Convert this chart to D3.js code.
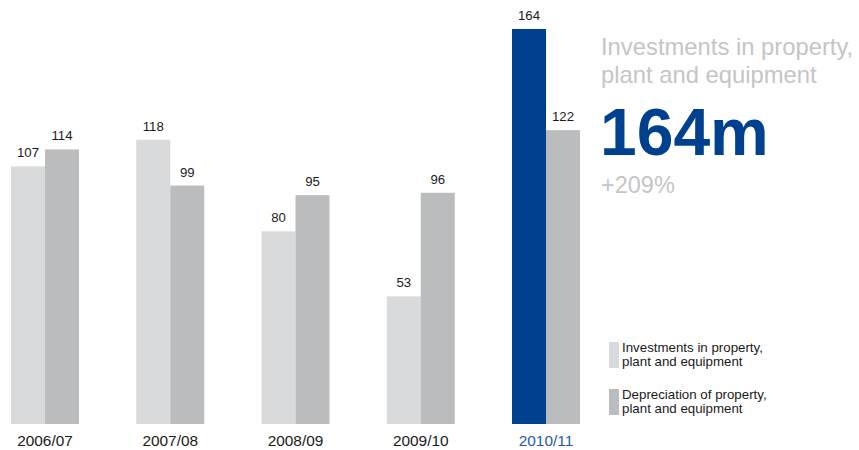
<!DOCTYPE html>
<html>
<head>
<meta charset="utf-8">
<script src="https://cdn.jsdelivr.net/npm/d3@7"></script>
<style>
  html, body { margin: 0; padding: 0; background: #fff; }
  svg { display: block; font-family: "Liberation Sans", Arial, sans-serif; }
</style>
</head>
<body>
<svg id="chart" width="859" height="450"></svg>
<script>
// Fiscal years and the two series (EUR millions)
const years = ["2006/07", "2007/08", "2008/09", "2009/10", "2010/11"];
const investments = [107, 118, 80, 53, 164];
const depreciation = [114, 99, 95, 96, 122];
const seriesNames = ["Investments in property,\nplant and equipment", "Depreciation of property,\nplant and equipment"];
const highlightYear = "2010/11";
const headlineValue = "164m";
const headlineChange = "+209%";
const headlineTitle = ["Investments in property,", "plant and equipment"];

const colLight = "#d9dadc";
const colDark = "#bbbcbe";
const colBlue = "#00418f";

const svg = d3.select("#chart");

const x = d3.scaleBand().domain(years).range([11, 580]).paddingInner(0.457).paddingOuter(0);
const xs = d3.scaleBand().domain(["inv", "dep"]).range([0, x.bandwidth()]).padding(0);
const y = d3.scaleLinear().domain([0, 164]).range([424, 29]);

const rows = years.map((yr, i) => ({ year: yr, inv: investments[i], dep: depreciation[i] }));

const groups = svg.append("g").selectAll("g")
  .data(rows).join("g")
  .attr("transform", d => `translate(${x(d.year)},0)`);

const bars = groups.selectAll("g.bar")
  .data(d => ["inv", "dep"].map(k => ({ key: k, value: d[k], year: d.year })))
  .join("g").attr("class", "bar");

bars.append("rect")
  .attr("x", d => xs(d.key))
  .attr("width", xs.bandwidth())
  .attr("y", d => y(d.value))
  .attr("height", d => y(0) - y(d.value))
  .attr("fill", d => d.key === "dep" ? colDark : (d.year === highlightYear ? colBlue : colLight));

bars.append("text")
  .attr("x", d => xs(d.key) + xs.bandwidth() / 2)
  .attr("y", d => y(d.value) - 9)
  .attr("text-anchor", "middle")
  .attr("font-size", 13.2)
  .attr("fill", "#1a1a1a")
  .text(d => d.value);

// Category axis labels
const xAxis = d3.axisBottom(x).tickSize(0).tickPadding(0);
const axisG = svg.append("g").attr("transform", "translate(0,433)").call(xAxis);
axisG.select(".domain").remove();
axisG.selectAll("text")
  .attr("dy", 0)
  .attr("y", 12.5)
  .attr("font-size", 15.4)
  .attr("font-family", "Liberation Sans, Arial, sans-serif")
  .attr("fill", d => d === highlightYear ? "#245aa6" : "#1a1a1a");

// Headline figure block
const head = svg.append("g").attr("transform", "translate(601,0)");
head.selectAll("text.title")
  .data(headlineTitle).join("text").attr("class", "title")
  .attr("x", 0)
  .attr("y", (d, i) => 55 + i * 28)
  .attr("font-size", 23.8)
  .attr("fill", "#c4c5c7")
  .text(d => d);
head.append("text")
  .attr("x", -1).attr("y", 155)
  .attr("font-size", 66).attr("font-weight", "bold")
  .attr("fill", colBlue)
  .text(headlineValue);
head.append("text")
  .attr("x", 0).attr("y", 193)
  .attr("font-size", 23.5)
  .attr("fill", "#c4c5c7")
  .text(headlineChange);

// Legend
const legend = svg.append("g").attr("transform", "translate(609,342)");
const items = legend.selectAll("g").data(seriesNames).join("g")
  .attr("transform", (d, i) => `translate(0,${i * 47})`);
items.append("rect")
  .attr("width", 10).attr("height", 26)
  .attr("fill", (d, i) => i === 0 ? colLight : colDark);
items.each(function (d) {
  const t = d3.select(this).append("text")
    .attr("x", 13).attr("y", 10)
    .attr("font-size", 13.3).attr("fill", "#1a1a1a");
  d.split("\n").forEach((line, j) => {
    t.append("tspan").attr("x", 13).attr("dy", j === 0 ? 0 : 14).text(line);
  });
});
</script>
</body>
</html>
